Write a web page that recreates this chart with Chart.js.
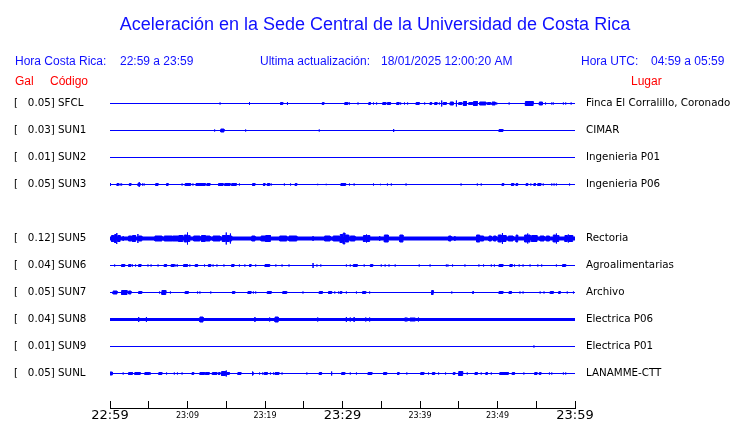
<!DOCTYPE html>
<html>
<head>
<meta charset="utf-8">
<script src="https://cdn.jsdelivr.net/npm/chart.js@4/dist/chart.umd.min.js"></script>
<style>
  html, body { margin: 0; padding: 0; background: #fff; }
  canvas { display: block; }
</style>
</head>
<body>
<canvas id="accelChart" width="740" height="423"></canvas>
<script>
// station list, one row each (SUN4 has no trace)
const codes = ['SFCL', 'SUN1', 'SUN2', 'SUN3', 'SUN4', 'SUN5', 'SUN6', 'SUN7', 'SUN8', 'SUN9', 'SUNL'];
const peaks = [0.05, 0.03, 0.01, 0.05, null, 0.12, 0.04, 0.05, 0.04, 0.01, 0.05];
const places = ['Finca El Corralillo, Coronado', 'CIMAR', 'Ingenieria P01', 'Ingenieria P06', '',
    'Rectoria', 'Agroalimentarias', 'Archivo', 'Electrica P06', 'Electrica P01', 'LANAMME-CTT'];

// resting noise half-width of each trace
const bands = [0, 0, 0, 0, null, 1.5, 0, 0, 1, 0, 0];

// time axis: minutes after 22:59
const tickMinutes = [0, 5, 10, 15, 20, 25, 30, 35, 40, 45, 50, 55, 60];
const tickLabels = ['22:59', '', '23:09', '', '23:19', '', '23:29', '', '23:39', '', '23:49', '', '23:59'];

// bursts: [start minute, end minute, half amplitude]
const sfcl = [
    [14.2, 14.2, 1], [18.0, 18.0, 1.5], [22.0, 22.3, 1], [22.9, 22.9, 1.5], [27.4, 27.6, 1],
    [30.3, 30.7, 1], [30.9, 30.9, 1], [32.0, 32.0, 1], [33.4, 33.6, 1], [34.0, 34.0, 1], [34.4, 34.4, 1],
    [35.2, 35.6, 1], [35.8, 36.2, 1], [37.0, 37.3, 1], [37.5, 37.5, 1], [38.0, 38.0, 1], [38.4, 38.4, 1],
    [39.5, 39.9, 1], [40.6, 40.6, 1], [41.3, 41.5, 1], [41.9, 42.2, 1], [42.5, 42.5, 1], [42.8, 42.8, 3],
    [43.0, 43.4, 1], [43.9, 44.3, 1.5], [44.7, 44.7, 3], [45.0, 45.4, 1], [45.6, 46.0, 2], [46.3, 46.8, 1],
    [46.9, 47.4, 2], [47.7, 48.5, 1.5], [48.7, 49.1, 1], [49.3, 49.7, 1.5], [49.9, 49.9, 1], [51.5, 51.5, 1],
    [53.6, 54.6, 2], [55.4, 55.8, 1.5], [56.2, 56.2, 1], [57.0, 57.0, 1], [57.2, 57.2, 1], [58.5, 58.5, 1],
    [58.8, 58.8, 1], [59.5, 59.5, 1]
];
const sun1 = [[13.5, 13.5, 1], [14.3, 14.7, 1.5], [17.5, 17.5, 1], [27.0, 27.0, 1], [36.6, 36.6, 1.5], [50.2, 50.7, 1]];
const sun2 = [];
const sun3 = [
    [0, 0.1, 1.5], [0.9, 1.1, 1], [1.3, 1.3, 1], [1.5, 1.5, 1], [2.5, 2.7, 1], [3.6, 3.7, 1], [3.75, 3.75, 2.5],
    [3.8, 3.9, 1], [4.2, 4.2, 1], [4.4, 4.4, 1], [5.9, 6.2, 1], [7.3, 7.5, 1], [9.3, 9.3, 1], [9.7, 10.4, 1],
    [10.7, 10.7, 1], [11.1, 12.3, 1], [12.5, 12.9, 1], [14.0, 14.6, 1], [14.8, 15.5, 1], [15.7, 16.3, 1],
    [16.7, 16.7, 1], [18.4, 18.7, 1], [19.8, 20.0, 1], [20.3, 20.6, 1], [20.8, 20.8, 1], [22.5, 22.5, 1],
    [23.3, 23.3, 1], [23.9, 24.1, 1], [26.8, 26.8, 0.7], [27.9, 27.9, 0.7],
    [29.8, 30.4, 1], [30.9, 30.9, 1], [31.5, 31.5, 1], [34.0, 34.0, 1], [34.9, 34.9, 0.7], [35.8, 35.8, 1],
    [36.3, 36.3, 1], [38.2, 38.2, 1], [45.3, 45.3, 1], [47.4, 47.4, 1], [47.9, 47.9, 1], [50.6, 50.8, 1],
    [51.8, 52.1, 1], [52.4, 52.6, 1], [53.7, 53.9, 1], [54.3, 54.3, 1], [54.7, 54.9, 1], [55.2, 55.6, 1],
    [55.9, 55.9, 1], [57.0, 57.0, 1], [57.3, 57.3, 1], [57.6, 57.6, 1], [59.3, 59.3, 1]
];
const sun5 = [
    [0.2, 0.5, 3], [0.6, 0.8, 4], [0.9, 0.9, 5.5], [1.0, 1.3, 3], [1.7, 1.7, 2.5], [2.4, 2.8, 2.5], [2.9, 3.3, 3],
    [3.6, 3.6, 4.5], [3.7, 4.1, 2.5], [5.8, 6.7, 2.5], [7.0, 8.0, 2.5], [8.1, 8.8, 2.5], [8.9, 9.4, 3],
    [9.6, 9.9, 3.5], [10.0, 10.0, 6], [10.1, 10.3, 3], [10.8, 11.6, 2.5], [11.8, 12.3, 3], [12.4, 12.9, 2.5],
    [13.3, 14.2, 2.5], [14.5, 14.9, 3], [15.0, 15.0, 6], [15.1, 15.4, 3], [15.5, 15.5, 5], [15.6, 15.7, 2.5],
    [18.3, 18.7, 2.5], [19.5, 20.0, 2.5], [20.1, 20.7, 3], [21.9, 22.8, 2.5], [23.1, 24.1, 2.5],
    [26.2, 26.2, 2.5], [27.7, 28.4, 2.5], [28.8, 29.6, 2.5],
    [29.7, 30.0, 4], [30.1, 30.3, 5.5], [30.4, 30.8, 3.5], [31.0, 31.6, 2.5], [32.7, 33.0, 3], [33.1, 33.1, 4],
    [33.2, 33.5, 3], [34.8, 34.8, 2.5], [35.4, 35.9, 3.5], [37.4, 37.8, 3.5], [43.7, 44.0, 2.5],
    [44.5, 44.5, 2.5], [47.3, 47.7, 3.5], [47.8, 48.2, 2.5], [48.9, 49.2, 2.5], [49.5, 49.8, 2.5],
    [50.1, 50.5, 3.5], [50.6, 50.6, 5.5], [50.7, 51.1, 3], [51.4, 52.0, 2.5], [52.4, 52.6, 3.5],
    [53.5, 53.8, 3.5], [53.9, 53.9, 5], [54.0, 54.2, 3.5], [54.4, 55.1, 3], [55.5, 56.0, 2.5],
    [56.3, 56.7, 2.5], [57.2, 57.5, 3.5], [57.6, 57.6, 5], [57.7, 57.9, 3], [58.7, 59.0, 3],
    [59.1, 59.1, 4], [59.2, 59.7, 3]
];
const sun6 = [
    [0.6, 0.6, 1], [1.5, 1.9, 1], [2.4, 2.7, 1], [2.9, 2.9, 1], [3.3, 3.3, 1], [3.7, 4.0, 1], [4.9, 4.9, 1],
    [5.3, 5.3, 1], [6.2, 6.2, 1], [7.0, 7.3, 1], [7.9, 8.3, 1], [8.5, 8.5, 1], [8.7, 8.7, 1], [9.5, 10.0, 1],
    [10.3, 10.3, 1], [11.0, 11.3, 1], [12.2, 12.2, 1], [12.7, 13.0, 1], [13.3, 13.3, 1], [13.8, 13.8, 1],
    [14.7, 14.7, 1], [15.7, 16.0, 1], [16.7, 16.7, 1], [17.4, 17.4, 1], [18.0, 18.2, 1], [18.8, 18.8, 1],
    [20.0, 20.6, 1], [21.4, 21.4, 1], [22.2, 22.2, 1], [23.1, 23.1, 1], [26.2, 26.2, 2.5], [26.7, 26.7, 1],
    [27.2, 27.2, 1],
    [30.5, 30.5, 1], [31.0, 31.0, 1], [31.4, 31.9, 1], [32.8, 32.8, 1], [33.6, 33.9, 1], [35.0, 35.0, 1],
    [35.5, 35.5, 1], [36.0, 36.0, 1], [36.8, 36.8, 1], [39.9, 39.9, 1], [41.3, 41.3, 1], [43.4, 43.4, 1],
    [43.6, 43.6, 1], [44.2, 44.2, 1], [45.8, 45.8, 1], [47.6, 47.6, 1], [48.2, 48.2, 1], [49.2, 49.2, 1],
    [49.6, 49.6, 1], [50.2, 50.7, 1], [51.6, 51.9, 1], [52.2, 52.2, 1], [52.8, 52.8, 1], [53.3, 53.3, 1],
    [54.2, 54.2, 1], [55.2, 55.2, 1], [55.7, 55.7, 1], [57.6, 57.6, 1], [58.4, 58.8, 1]
];
const sun7 = [
    [0.4, 0.9, 1.5], [1.5, 2.2, 2], [2.4, 2.7, 1.5], [3.7, 4.1, 1], [6.4, 6.4, 1], [6.7, 7.2, 2], [7.8, 7.8, 1],
    [9.7, 10.1, 1], [11.3, 11.3, 1], [11.6, 11.6, 1], [13.0, 13.0, 1], [15.8, 16.1, 1], [17.8, 18.2, 1],
    [18.5, 18.5, 1], [18.8, 18.8, 1], [20.3, 20.8, 1], [22.3, 22.8, 1], [24.9, 24.9, 1], [27.0, 27.4, 1],
    [28.2, 28.6, 1], [29.0, 29.0, 1], [29.5, 29.5, 1],
    [29.7, 29.9, 1], [30.5, 30.5, 1], [31.8, 31.8, 1], [32.6, 33.0, 1], [33.5, 33.5, 1], [41.5, 41.7, 2],
    [44.1, 44.1, 1], [46.8, 46.9, 1], [50.2, 50.7, 1], [51.5, 51.8, 1], [52.9, 52.9, 1], [53.3, 53.3, 1],
    [55.5, 55.5, 1], [56.0, 56.0, 1], [56.8, 57.2, 1], [57.9, 58.1, 1], [59.0, 59.0, 1], [59.8, 59.8, 1]
];
const sun8 = [
    [3.7, 3.7, 2.5], [4.7, 4.7, 2.5], [11.6, 12.0, 2.5], [18.7, 18.7, 2.5], [20.6, 20.6, 2], [21.3, 21.7, 2.5],
    [26.8, 26.8, 2], [30.5, 30.5, 2.5], [31.0, 31.0, 2], [31.5, 31.5, 2.5], [33.0, 33.0, 2], [33.5, 33.5, 2],
    [38.1, 38.1, 2], [38.3, 38.3, 2], [38.7, 39.4, 1.5], [39.8, 39.8, 2]
];
const sun9 = [[54.7, 54.7, 1]];
const sunl = [
    [0, 0.3, 1.5], [1.7, 1.7, 1], [2.4, 2.9, 1], [3.2, 3.9, 1], [4.5, 5.1, 1], [5.2, 5.2, 1], [6.3, 6.7, 1],
    [7.3, 7.3, 1], [8.3, 8.3, 1], [8.7, 8.7, 1], [9.3, 9.3, 1], [10.6, 10.8, 1], [11.6, 12.2, 1], [12.3, 12.8, 1],
    [13.2, 13.8, 1], [14.0, 14.2, 1], [14.4, 14.9, 2], [15.0, 15.0, 3], [15.1, 15.4, 1], [16.5, 16.9, 1],
    [18.4, 18.4, 2], [18.5, 18.5, 1], [19.3, 19.3, 1], [19.7, 19.7, 1], [19.9, 20.3, 1], [20.7, 20.7, 1],
    [21.1, 21.1, 1], [21.3, 21.8, 1], [22.2, 22.2, 1], [25.4, 25.4, 1], [27.0, 27.3, 1], [28.6, 28.6, 2],
    [29.9, 30.3, 1], [31.0, 31.0, 1], [31.8, 31.8, 1], [33.3, 33.8, 1], [35.3, 35.7, 1], [37.1, 37.3, 1],
    [38.3, 38.3, 1], [40.1, 40.5, 1], [41.1, 41.1, 1], [41.6, 41.9, 1], [42.4, 42.4, 1], [43.3, 43.3, 1],
    [44.3, 44.5, 1], [45.0, 45.5, 2], [46.1, 46.1, 1], [47.1, 47.4, 1], [47.9, 47.9, 1], [48.5, 48.7, 1],
    [49.2, 49.2, 1], [50.3, 51.4, 1], [51.9, 52.2, 1], [53.4, 53.4, 1], [54.8, 55.1, 1], [55.4, 55.6, 1],
    [56.7, 56.7, 1], [57.0, 57.0, 1], [58.5, 58.5, 1], [58.8, 58.8, 1]
];
const bursts = [sfcl, sun1, sun2, sun3, null, sun5, sun6, sun7, sun8, sun9, sunl];

const ROW_GAP = 27;
const TRACE_BLUE = '#0000ff';
const TEXT_BLUE = '#1010ff';

// one edge of a trace (sign -1 = upper, +1 = lower on the reversed axis)
function traceEdge(row, sign) {
    const base = row * ROW_GAP;
    const rest = base + sign * bands[row];
    const pts = [{ x: 0, y: rest }];
    bursts[row].forEach(([t0, t1, amp]) => {
        pts.push({ x: t0, y: rest }, { x: t0, y: base + sign * amp },
                 { x: t1, y: base + sign * amp }, { x: t1, y: rest });
    });
    pts.push({ x: 60, y: rest });
    return pts;
}

const datasets = [];
codes.forEach((code, row) => {
    if (!bursts[row]) return;
    const common = { showLine: true, pointRadius: 0, borderWidth: 1, tension: 0,
                     borderColor: TRACE_BLUE, backgroundColor: TRACE_BLUE };
    datasets.push({ ...common, label: code + ' up', data: traceEdge(row, -1), fill: false });
    datasets.push({ ...common, label: code + ' down', data: traceEdge(row, 1), fill: '-1' });
});

const rowTicks = scale => { scale.ticks = codes.map((c, i) => ({ value: i * ROW_GAP })); };
const labelFont = { family: 'DejaVu Sans', size: 10.3 };

const headerText = {
    id: 'headerText',
    afterDraw(chart) {
        const ctx = chart.ctx;
        ctx.save();
        ctx.textBaseline = 'alphabetic';
        ctx.textAlign = 'center';
        ctx.fillStyle = TEXT_BLUE;
        ctx.font = '18px "Liberation Sans"';
        ctx.fillText('Aceleración en la Sede Central de la Universidad de Costa Rica', 375, 30);
        ctx.textAlign = 'left';
        ctx.font = '12px "Liberation Sans"';
        ctx.fillText('Hora Costa Rica:', 15, 65);
        ctx.fillText('22:59 a 23:59', 120, 65);
        ctx.fillText('Ultima actualización:', 260, 65);
        ctx.fillText('18/01/2025 12:00:20 AM', 381, 65);
        ctx.fillText('Hora UTC:', 581, 65);
        ctx.fillText('04:59 a 05:59', 651, 65);
        ctx.fillStyle = '#ff0000';
        ctx.fillText('Gal', 15, 85);
        ctx.fillText('Código', 50, 85);
        ctx.fillText('Lugar', 631, 85);
        ctx.restore();
    }
};

new Chart(document.getElementById('accelChart'), {
    type: 'scatter',
    data: { datasets },
    plugins: [headerText],
    options: {
        responsive: false,
        devicePixelRatio: 1,
        animation: false,
        events: [],
        layout: { padding: { top: 90, left: 14, right: 0, bottom: 0 } },
        plugins: { legend: { display: false }, tooltip: { enabled: false } },
        scales: {
            x: {
                type: 'linear', min: 0, max: 60,
                afterBuildTicks: scale => { scale.ticks = tickMinutes.map(v => ({ value: v })); },
                afterFit: scale => { scale.height = 15; },
                border: { display: true, color: '#000', width: 1 },
                grid: { drawOnChartArea: false, drawTicks: true, tickLength: -7, color: '#000' },
                ticks: {
                    autoSkip: false, maxRotation: 0, padding: 7, color: '#000',
                    callback: (value, index) => tickLabels[index],
                    font: ctx => ({ family: 'DejaVu Sans', size: ctx.tick && ctx.tick.value % 30 === 0 ? 13 : 8, lineHeight: '16px' })
                }
            },
            y: {
                type: 'linear', position: 'left', reverse: true, min: -13.5, max: 304.5,
                afterBuildTicks: rowTicks,
                afterFit: scale => { scale.width = 96; },
                border: { display: false },
                grid: { display: false, drawTicks: false },
                ticks: {
                    autoSkip: false, crossAlign: 'far', padding: 0, color: '#000', font: labelFont,
                    callback: (value, index) => peaks[index] === null ? '' : `[   ${peaks[index].toFixed(2)}] ${codes[index]}`
                }
            },
            y2: {
                type: 'linear', position: 'right', reverse: true, min: -13.5, max: 304.5,
                afterBuildTicks: rowTicks,
                afterFit: scale => { scale.width = 165; },
                border: { display: false },
                // hidden tick length gives the gap before the place names
                grid: { display: false, drawTicks: true, tickLength: 11 },
                ticks: {
                    autoSkip: false, crossAlign: 'near', padding: 0, color: '#000', font: labelFont,
                    callback: (value, index) => places[index]
                }
            }
        }
    }
});
</script>
</body>
</html>
